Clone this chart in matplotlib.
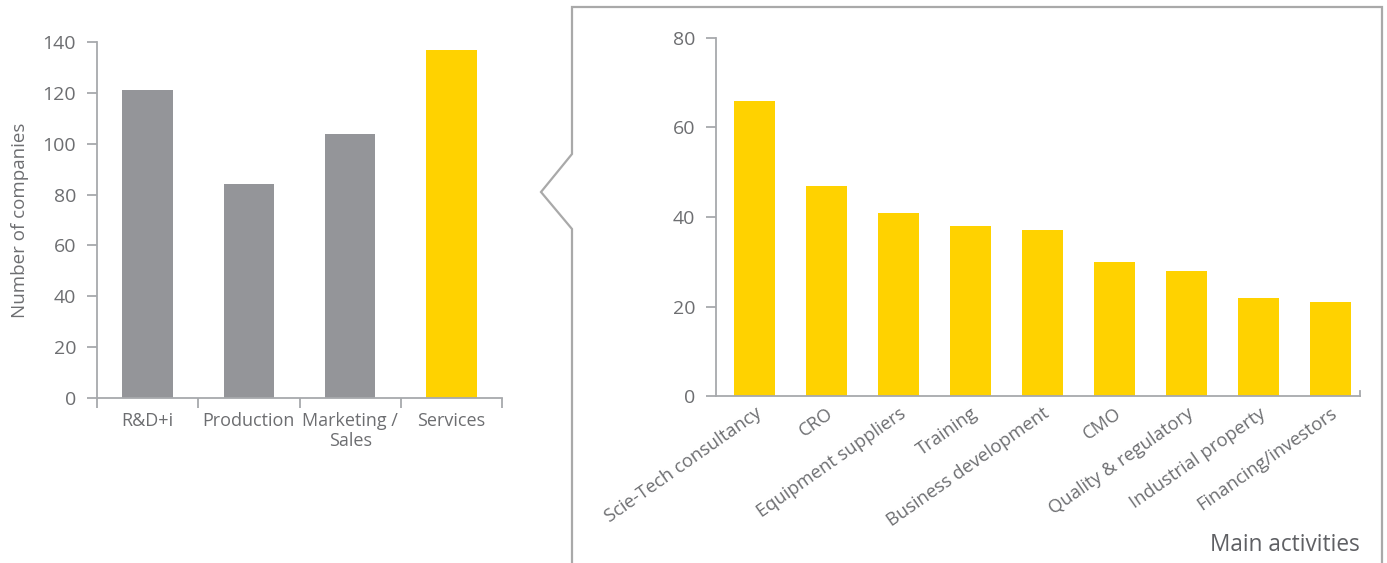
import matplotlib
matplotlib.use("Agg")
import matplotlib.pyplot as plt
from matplotlib.lines import Line2D
import numpy as np

plt.rcParams['font.family'] = ['Open Sans', 'DejaVu Sans']

# Overview: companies by main activity group
groups = ["R&D+i", "Production", "Marketing /\nSales", "Services"]
group_counts = [121, 84, 104, 137]
group_colors = ["#949599", "#949599", "#949599", "#FFD200"]

# Breakdown of the services group
services = ["Scie-Tech consultancy", "CRO", "Equipment suppliers", "Training",
            "Business development", "CMO", "Quality & regulatory",
            "Industrial property", "Financing/investors"]
service_counts = [66, 47, 41, 38, 37, 30, 28, 22, 21]

left_ticks = [0, 20, 40, 60, 80, 100, 120, 140]
right_ticks = [0, 20, 40, 60, 80]

W, H = 1387, 563
TEXT = "#6d6e71"
AXIS = "#a7a9ac"
YELLOW = "#FFD200"

fig = plt.figure(figsize=(W / 100, H / 100), dpi=100)


def rect(x0, x1, ytop, ybot):
    return [x0 / W, 1 - ybot / H, (x1 - x0) / W, (ybot - ytop) / H]


# ---- left chart ----
ax1 = fig.add_axes(rect(97, 502, 42, 398))
x1 = np.arange(len(groups))
ax1.bar(x1, group_counts, width=0.5, color=group_colors)
ax1.set_xlim(-0.5, len(groups) - 0.5)
ax1.set_ylim(0, 140)
ax1.set_yticks(left_ticks)
ax1.set_xticks(np.arange(len(groups) + 1) - 0.5)
ax1.set_xticklabels([])
ax1.set_xticks(x1, minor=True)
ax1.set_xticklabels(groups, minor=True, fontsize=13, color=TEXT, linespacing=1.15)
ax1.tick_params(axis='x', which='minor', length=0, pad=10)
ax1.tick_params(axis='x', which='major', length=7, direction='out', color=AXIS, width=1.3)
ax1.tick_params(axis='y', length=7, color=AXIS, width=1.3, labelsize=14,
                labelcolor=TEXT, pad=8)
for s in ("top", "right"):
    ax1.spines[s].set_visible(False)
for s in ("left", "bottom"):
    ax1.spines[s].set_color(AXIS)
    ax1.spines[s].set_linewidth(1.3)
ax1.set_ylabel("Number of companies", fontsize=13.5, color=TEXT, labelpad=10)

# ---- right chart ----
ax2 = fig.add_axes(rect(716, 1360, 38, 396))
x2 = np.arange(len(services))
ax2.bar(x2, service_counts, width=0.57, color=YELLOW)
ax2.set_xlim(-0.535, 8.41)
ax2.set_ylim(0, 80)
ax2.set_yticks(right_ticks)
ax2.set_xticks(x2)
ax2.set_xticklabels(services, rotation=35, ha='right', rotation_mode='anchor',
                    fontsize=13.2, color=TEXT)
ax2.tick_params(axis='x', length=0, pad=6)
ax2.tick_params(axis='y', length=7, color=AXIS, width=1.3, labelsize=14,
                labelcolor=TEXT, pad=8)
ax2.spines["top"].set_visible(False)
ax2.spines["right"].set_bounds(0, 1.2)
for s in ("left", "bottom", "right"):
    ax2.spines[s].set_color(AXIS)
    ax2.spines[s].set_linewidth(1.3)

fig.text(1360 / W, 1 - 545 / H, "Main activities", ha='right', va='center',
         fontsize=16.3, color="#5f6064")

# ---- callout frame around the breakdown ----
px = [572, 572, 541, 572, 572, 1382, 1382]
py = [563, 229, 192, 154, 7, 7, 563]
fig.add_artist(Line2D([p / W for p in px], [1 - p / H for p in py],
                      transform=fig.transFigure, color="#a9a9a9", lw=1.6,
                      solid_joinstyle='miter'))

fig.savefig("out.png", dpi=100)
